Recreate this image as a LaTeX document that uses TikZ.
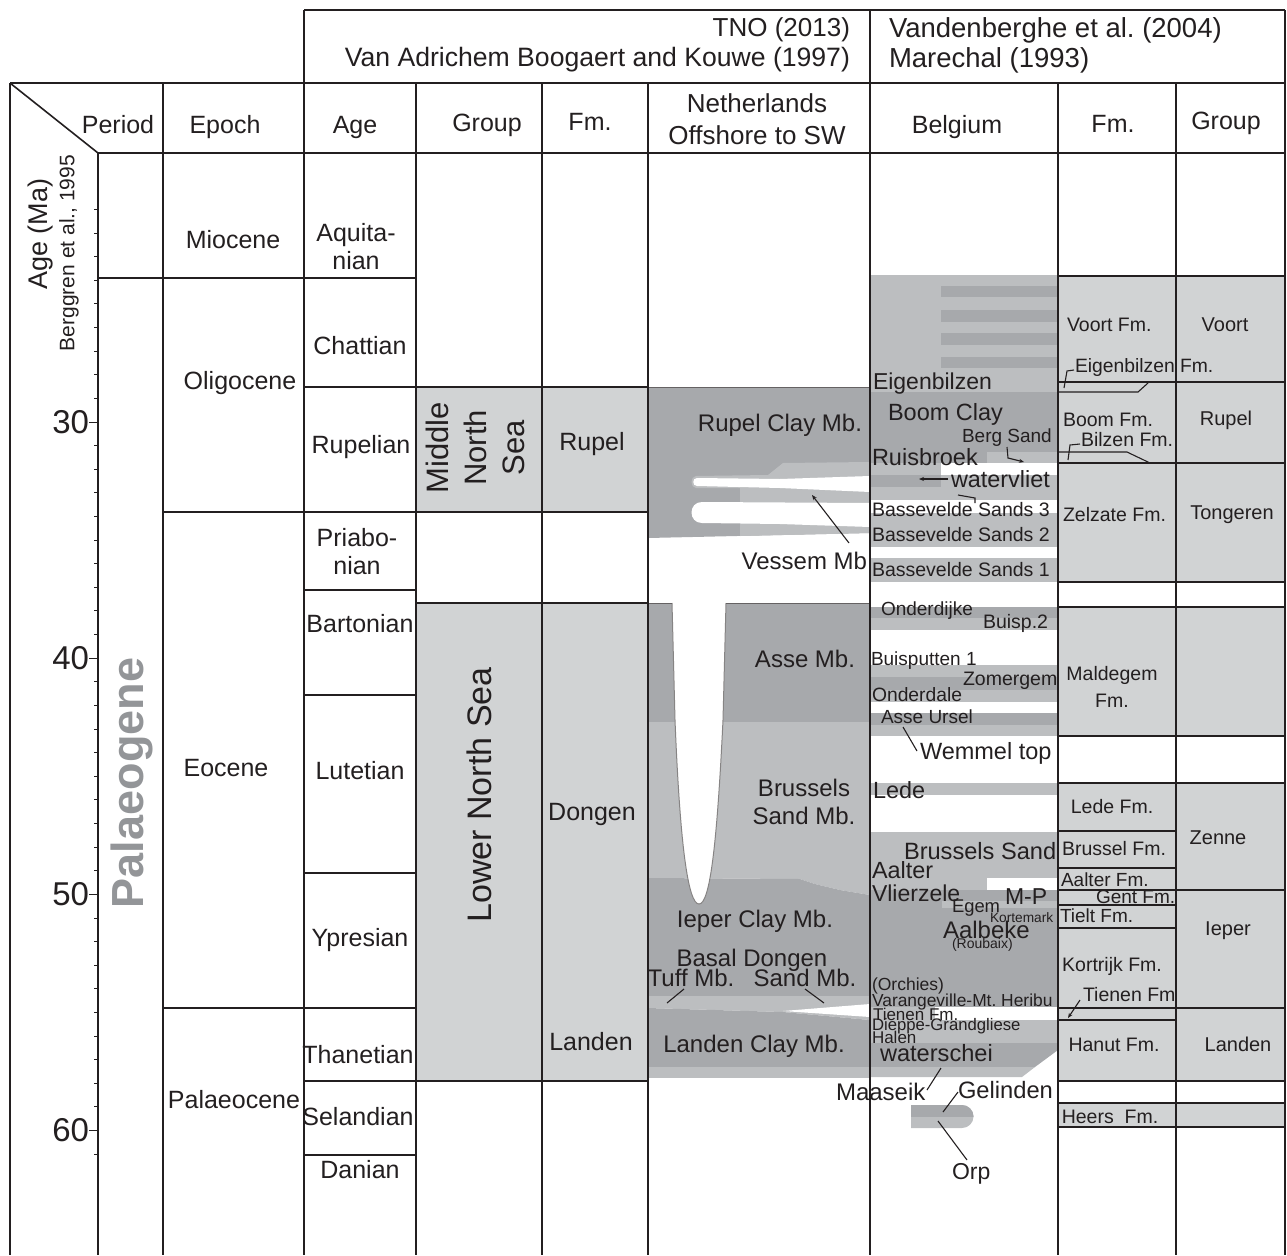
\documentclass[tikz,border=0pt]{standalone}
\usepackage{fontspec}
\setmainfont{Liberation Sans}
\usetikzlibrary{arrows.meta}
\definecolor{lg}{HTML}{D1D3D4}
\definecolor{mg}{HTML}{BCBEC0}
\definecolor{dg}{HTML}{A7A9AC}
\definecolor{pg}{HTML}{939598}
\definecolor{ink}{HTML}{231F20}
\begin{document}
\frenchspacing
\begin{tikzpicture}[x=1pt,y=-1pt,
  every node/.style={inner sep=0pt, outer sep=0pt, text=ink},
  fs/.style={font=\fontsize{#1}{#1}\selectfont},
  rule/.style={draw=ink, line width=1.6pt},
  thinrule/.style={draw=ink, line width=1.1pt},
  box/.style={fill=lg, draw=ink, line width=1.3pt},
  ptr/.style={draw=ink, line width=1.1pt},
  ptra/.style={draw=ink, line width=1.1pt, -{Stealth[length=5pt,width=4pt]}},
  tick/.style={draw=ink, line width=1pt},
  L/.style={anchor=west},
  R/.style={anchor=east},
  C/.style={anchor=center},
]
\useasboundingbox (0,0) rectangle (1287,1255);

% ---------------- TNO group / formation fills
\fill[lg] (416,387) rectangle (648,512);
\fill[lg] (416,603) rectangle (648,1081);

% ---------------- Netherlands offshore column
\fill[dg] (648,387) -- (870,387) -- (870,533) -- (648,538) -- cycle;
\fill[mg] (696,476) -- (768,475) -- (783,463) -- (870,462) -- (870,533) -- (740,536) -- (740,488) -- (696,488) .. controls (690,488) and (690,476) .. (696,476) -- cycle;
\fill[white] (697,478) -- (780,479) -- (870,476) -- (870,492) -- (780,488) -- (697,486) .. controls (692,486) and (692,478) .. (697,478) -- cycle;
\fill[white] (702,502) -- (870,503) -- (870,527) -- (780,524) -- (702,523) .. controls (688,523) and (688,502) .. (702,502) -- cycle;
\fill[dg] (648,603) rectangle (870,722);
\fill[mg] (648,722) -- (870,722) -- (870,895) -- (840,890) -- (815,884) -- (800,879) -- (648,878) -- cycle;
\fill[dg] (648,878) -- (800,879) -- (815,884) -- (840,890) -- (870,895) -- (870,996) -- (648,996) -- cycle;
\fill[mg] (648,996) -- (870,996) -- (870,1020) -- (783,1012) -- (648,1008) -- cycle;
\fill[white] (783,1011) -- (870,1004) -- (870,1017) -- cycle;
\fill[dg] (648,1008) -- (783,1012) -- (870,1020) -- (870,1067) -- (648,1067) -- cycle;
\fill[mg] (648,1067) rectangle (870,1078);
\fill[white] (672,603) -- (675,720) .. controls (680,845) and (688,904) .. (699,904) .. controls (710,904) and (717,845) .. (723,720) -- (726,603) -- cycle;
\draw[line width=1pt, ink!55] (672,603) -- (675,720) .. controls (680,845) and (688,904) .. (699,904) .. controls (710,904) and (717,845) .. (723,720) -- (726,603);
\draw[line width=0.8pt, ink!70] (648,387) -- (870,387);
\draw[line width=0.8pt, ink!70] (648,603) -- (672,603);
\draw[line width=0.8pt, ink!70] (726,603) -- (870,603);

% ---------------- Belgium column
\fill[mg] (870,275) rectangle (1058,392);
\foreach \t/\b in {286/297,310/322,333/345,357/368} \fill[dg] (941,\t) rectangle (1058,\b);
\fill[dg] (870,392) rectangle (1058,452);
\fill[dg] (870,452) rectangle (987,463);
\fill[mg] (987,452) rectangle (1058,463);
\fill[mg] (870,463) rectangle (941,500);
\fill[dg] (870,475) rectangle (941,487);
\fill[mg] (941,475) rectangle (1058,500);
\fill[mg] (870,513) rectangle (1058,547);
\fill[mg] (870,558) rectangle (1058,582);
\fill[dg] (870,607) rectangle (1058,618);
\fill[mg] (870,618) rectangle (1058,630);
\fill[mg] (870,665) rectangle (1058,702);
\fill[dg] (870,677) rectangle (1058,690);
\fill[dg] (870,713) rectangle (1058,725);
\fill[mg] (870,725) rectangle (1058,736);
\fill[mg] (870,783) rectangle (1058,795);
\fill[mg] (870,832) rectangle (1058,890);
\fill[white] (987,878) rectangle (1058,890);
\fill[dg] (870,890) rectangle (1058,1007);
\fill[mg] (942,901) rectangle (1058,908);
\fill[mg] (870,1007) rectangle (935,1020);
\fill[mg] (870,1020) rectangle (1058,1043);
\fill[dg] (870,1043) -- (1058,1043) -- (1058,1050) -- (1035,1067) -- (870,1067) -- cycle;
\fill[mg] (870,1067) -- (1035,1067) -- (1022,1077) -- (870,1077) -- cycle;
% Orp / Gelinden lens
\fill[mg] (911,1105) -- (962,1105) arc (-90:90:11.5) -- (911,1128) -- cycle;
\begin{scope}
  \clip (905,1100) rectangle (980,1116);
  \fill[dg] (911,1105) -- (962,1105) arc (-90:90:11.5) -- (911,1128) -- cycle;
\end{scope}

% ---------------- Belgian formation and group boxes
\foreach \t/\b in {276/382,382/463,463/582,607/736,783/831,831/868,868/890,890/905,905/928,928/1008,1008/1020,1020/1081,1103/1127}
  \filldraw[box] (1058,\t) rectangle (1176,\b);
\foreach \t/\b in {276/382,382/463,463/582,607/736,783/890,890/1008,1008/1081,1103/1127}
  \filldraw[box] (1176,\t) rectangle (1285,\b);
\draw[thinrule] (1058,392) -- (1138,392) -- (1148,383);
\draw[thinrule] (1058,452) -- (1127,452) -- (1150,463);

% ---------------- table rules
\draw[rule] (304,10) -- (1285,10);
\draw[rule] (10,83) -- (1285,83);
\draw[rule] (98,153) -- (1285,153);
\draw[rule] (10,83) -- (98,153);
\foreach \x/\t in {10/83,98/153,163/83,304/10,416/83,542/83,648/83,870/10,1058/83,1176/83,1285/10}
  \draw[rule] (\x,\t) -- (\x,1255);
\draw[rule] (98,278) -- (416,278);
\draw[rule] (304,387) -- (648,387);
\draw[rule] (163,512) -- (648,512);
\draw[rule] (304,590) -- (416,590);
\draw[rule] (416,603) -- (648,603);
\draw[rule] (304,695) -- (416,695);
\draw[rule] (304,873) -- (416,873);
\draw[rule] (163,1008) -- (416,1008);
\draw[rule] (304,1081) -- (648,1081);
\draw[rule] (304,1155) -- (416,1155);

% ---------------- age axis
\foreach \a in {21,...,61}{
  \pgfmathsetmacro{\yy}{422+(\a-30)*23.62}
  \pgfmathsetmacro{\ll}{ifthenelse(mod(\a,10)==0,9,4)}
  \draw[tick] (98-\ll,\yy) -- (98,\yy);
}
\node[fs=33,R] (n30) at (89,422) {30};
\node[fs=33,R] (n40) at (89,658) {40};
\node[fs=33,R] (n50) at (89,894) {50};
\node[fs=33,R] (n60) at (89,1130) {60};
\node[fs=27,C,rotate=90] (agema) at (41,234) {Age (Ma)};
\node[fs=21,C,rotate=90] (bergg) at (69,253) {Berggren et al., 1995};
\node[font=\fontsize{45}{45}\selectfont\bfseries,text=pg,C,rotate=90] (palaeo) at (132,783) {Palaeogene};

% ---------------- header texts
\node[fs=26,R] (tno) at (850,30) {TNO (2013)};
\node[fs=26.6,R] (vab) at (850,60) {Van Adrichem Boogaert and Kouwe (1997)};
\node[fs=27.5,L] (vdb) at (889,30) {Vandenberghe et al. (2004)};
\node[fs=27.5,L] (mar) at (889,60) {Marechal (1993)};
\node[fs=25,C] (hper) at (118,125) {Period};
\node[fs=25,C] (hepo) at (225,127) {Epoch};
\node[fs=25,C] (hage) at (355,127) {Age};
\node[fs=25,C] (hgrp) at (487,125) {Group};
\node[fs=25,C] (hfm) at (590,122) {Fm.};
\node[font=\fontsize{26}{32}\selectfont,align=center,C] (hnl) at (757,119) {Netherlands\\Offshore to SW};
\node[fs=25,C] (hbe) at (957,127) {Belgium};
\node[fs=25,C] (hfm2) at (1113,124) {Fm.};
\node[fs=25,C] (hgrp2) at (1226,123) {Group};

% ---------------- epochs and ages
\node[fs=25,C] (emio) at (233,240) {Miocene};
\node[fs=25,C] (eoli) at (240,383) {Oligocene};
\node[fs=25,C] (eeoc) at (226,768) {Eocene};
\node[fs=25,C] (epal) at (234,1100) {Palaeocene};
\node[font=\fontsize{25}{28}\selectfont,align=center,C] (aaqu) at (356,247) {Aquita-\\nian};
\node[fs=25,C] (acha) at (360,346) {Chattian};
\node[fs=25,C] (arup) at (361,447) {Rupelian};
\node[font=\fontsize{25}{28}\selectfont,align=center,C] (apri) at (357,552) {Priabo-\\nian};
\node[fs=25,C] (abar) at (360,624) {Bartonian};
\node[fs=25,C] (alut) at (360,771) {Lutetian};
\node[fs=25,C] (aypr) at (360,940) {Ypresian};
\node[fs=25,C] (atha) at (358,1055) {Thanetian};
\node[fs=25,C] (asel) at (358,1117) {Selandian};
\node[fs=25,C] (adan) at (360,1170) {Danian};

% ---------------- TNO groups and formations
\node[font=\fontsize{31}{38}\selectfont,align=center,C,rotate=90] (mns) at (475,448) {Middle\\North\\Sea};
\node[fs=34,C,rotate=90] (lns) at (479,795) {Lower North Sea};
\node[fs=25,C] (frup) at (592,444) {Rupel};
\node[fs=25,C] (fdon) at (592,814) {Dongen};
\node[fs=25,C] (flan) at (591,1042) {Landen};

% ---------------- Netherlands members
\node[fs=24,R] (nrup) at (862,425) {Rupel Clay Mb.};
\node[fs=24,R] (nves) at (867,561) {Vessem Mb};
\node[fs=24,C] (nasse) at (805,659) {Asse Mb.};
\node[font=\fontsize{24}{28}\selectfont,align=center,C] (nbru) at (804,802) {Brussels\\Sand Mb.};
\node[fs=24,C] (niep) at (755,921) {Ieper Clay Mb.};
\node[fs=24,C] (nbas) at (752,960) {Basal Dongen};
\node[fs=24,C] (ntuf) at (691,978) {Tuff Mb.};
\node[fs=24,C] (nsand) at (805,978) {Sand Mb.};
\node[fs=24,C] (nlan) at (754,1046) {Landen Clay Mb.};
\coordinate (vesA) at (849,543); \coordinate (vesB) at (812,495);
\draw[ptra] (vesA) -- (vesB);
\coordinate (tufA) at (684,989); \coordinate (tufB) at (667,1003);
\draw[ptr] (tufA) -- (tufB);
\coordinate (sndA) at (805,989); \coordinate (sndB) at (824,1003);
\draw[ptr] (sndA) -- (sndB);

% ---------------- Belgium labels
\node[fs=23,L] (beig) at (873,384) {Eigenbilzen};
\node[fs=23.5,L] (bboom) at (888,414) {Boom Clay};
\node[fs=19,L] (bberg) at (962,438) {Berg Sand};
\node[fs=23.5,L] (bruis) at (872,457) {Ruisbroek};
\node[fs=23.4,L] (bwat) at (951,479) {watervliet};
\node[fs=19.5,L] (bb3) at (872,510) {Bassevelde Sands 3};
\node[fs=19.5,L] (bb2) at (872,535) {Bassevelde Sands 2};
\node[fs=19.5,L] (bb1) at (872,570) {Bassevelde Sands 1};
\node[fs=19,L] (bond) at (881,611) {Onderdijke};
\node[fs=19.5,L] (bbu2) at (983,623) {Buisp.2};
\node[fs=19,L] (bbu1) at (871,661) {Buisputten 1};
\node[fs=19.5,L] (bzom) at (963,681) {Zomergem};
\node[fs=19.3,L] (bodl) at (872,695) {Onderdale};
\node[fs=19,L] (basu) at (881,717) {Asse Ursel};
\node[fs=23.5,L] (bwem) at (920,753) {Wemmel top};
\node[fs=23.4,L] (blede) at (873,790) {Lede};
\node[fs=23.6,L] (bbrs) at (904,851) {Brussels Sand};
\node[fs=23.4,L] (baal) at (872,870) {Aalter};
\node[fs=23,L] (bvli) at (872,893) {Vlierzele};
\node[fs=23,L] (bmp) at (1005,897) {M-P};
\node[fs=18.4,L] (begm) at (952,908) {Egem};
\node[fs=13.7,L] (bkor) at (990,918) {Kortemark};
\node[fs=24,L] (baalb) at (943,930) {Aalbeke};
\node[fs=14,L] (brou) at (952,945) {(Roubaix)};
\node[fs=17.5,L] (borc) at (872,986) {(Orchies)};
\node[fs=17.4,L] (bvar) at (872,1002) {Varangeville-Mt. Heribu};
\node[fs=17,L] (btie) at (873,1014) {Tienen Fm.};
\node[fs=16.7,L] (bdie) at (872,1026) {Dieppe-Grandgliese};
\node[fs=17,L] (bhal) at (872,1037) {Halen};
\node[fs=23.6,L] (bwsc) at (880,1053) {waterschei};
\node[fs=24,L] (bmaa) at (836,1092) {Maaseik};
\node[fs=23.7,L] (bgel) at (958,1090) {Gelinden};
\node[fs=23,L] (borp) at (952,1174) {Orp};

\coordinate (bergA) at (1007,447); \coordinate (bergB) at (1008,458); \coordinate (bergC) at (1024,462);
\draw[ptra] (bergA) -- (bergB) -- (bergC);
\coordinate (watA) at (948,479); \coordinate (watB) at (919,479);
\draw[ptra] (watA) -- (watB);
\coordinate (b3A) at (958,495); \coordinate (b3B) at (975,498); \coordinate (b3C) at (975,503);
\draw[ptr] (b3A) -- (b3B) -- (b3C);
\coordinate (wemA) at (917,751); \coordinate (wemB) at (903,727);
\draw[ptr] (wemA) -- (wemB);
\coordinate (maaA) at (927,1090); \coordinate (maaB) at (941,1068);
\draw[ptr] (maaA) -- (maaB);
\coordinate (gelA) at (958,1092); \coordinate (gelB) at (943,1112);
\draw[ptr] (gelA) -- (gelB);
\coordinate (orpA) at (967,1160); \coordinate (orpB) at (938,1121);
\draw[ptr] (orpA) -- (orpB);

% ---------------- Belgian formations and groups labels
\node[fs=19.5,L] (fvoo) at (1067,325) {Voort Fm.};
\node[fs=19.3,L] (feig) at (1075,368) {Eigenbilzen Fm.};
\node[fs=19.5,L] (fboo) at (1063,420) {Boom Fm.};
\node[fs=19.5,L] (fbil) at (1081,440) {Bilzen Fm.};
\node[fs=19.5,L] (fzel) at (1063,515) {Zelzate Fm.};
\node[font=\fontsize{19.5}{27}\selectfont,align=center,C] (fmal) at (1112,687) {Maldegem\\Fm.};
\node[fs=19.5,C] (flede) at (1112,807) {Lede Fm.};
\node[fs=19.5,C] (fbru) at (1114,849) {Brussel Fm.};
\node[fs=19,L] (faal) at (1061,880) {Aalter Fm.};
\node[fs=19,L] (fgen) at (1096,897) {Gent Fm.};
\node[fs=19,L] (ftie) at (1060,916) {Tielt Fm.};
\node[fs=19.5,C] (fkor) at (1112,966) {Kortrijk Fm.};
\node[fs=19.5,L] (ftien) at (1083,995) {Tienen Fm};
\node[fs=19.5,C] (fhan) at (1114,1045) {Hanut Fm.};
\node[fs=19.5,C] (fhee) at (1110,1117) {Heers~~Fm.};
\node[fs=20,C] (gvoo) at (1225,325) {Voort};
\node[fs=20,C] (grup) at (1226,420) {Rupel};
\node[fs=20,C] (gton) at (1232,515) {Tongeren};
\node[fs=20,C] (gzen) at (1218,838) {Zenne};
\node[fs=20,C] (giep) at (1228,931) {Ieper};
\node[fs=20,C] (glan) at (1238,1044) {Landen};

\coordinate (eigA) at (1074,370); \coordinate (eigB) at (1067,371); \coordinate (eigC) at (1064,388);
\draw[ptr] (eigA) -- (eigB) -- (eigC);
\coordinate (bilA) at (1080,444); \coordinate (bilB) at (1070,445); \coordinate (bilC) at (1068,460);
\draw[ptr] (bilA) -- (bilB) -- (bilC);
\coordinate (tieA) at (1080,1000); \coordinate (tieB) at (1068,1018);
\draw[ptra] (tieA) -- (tieB);
\end{tikzpicture}
\end{document}
